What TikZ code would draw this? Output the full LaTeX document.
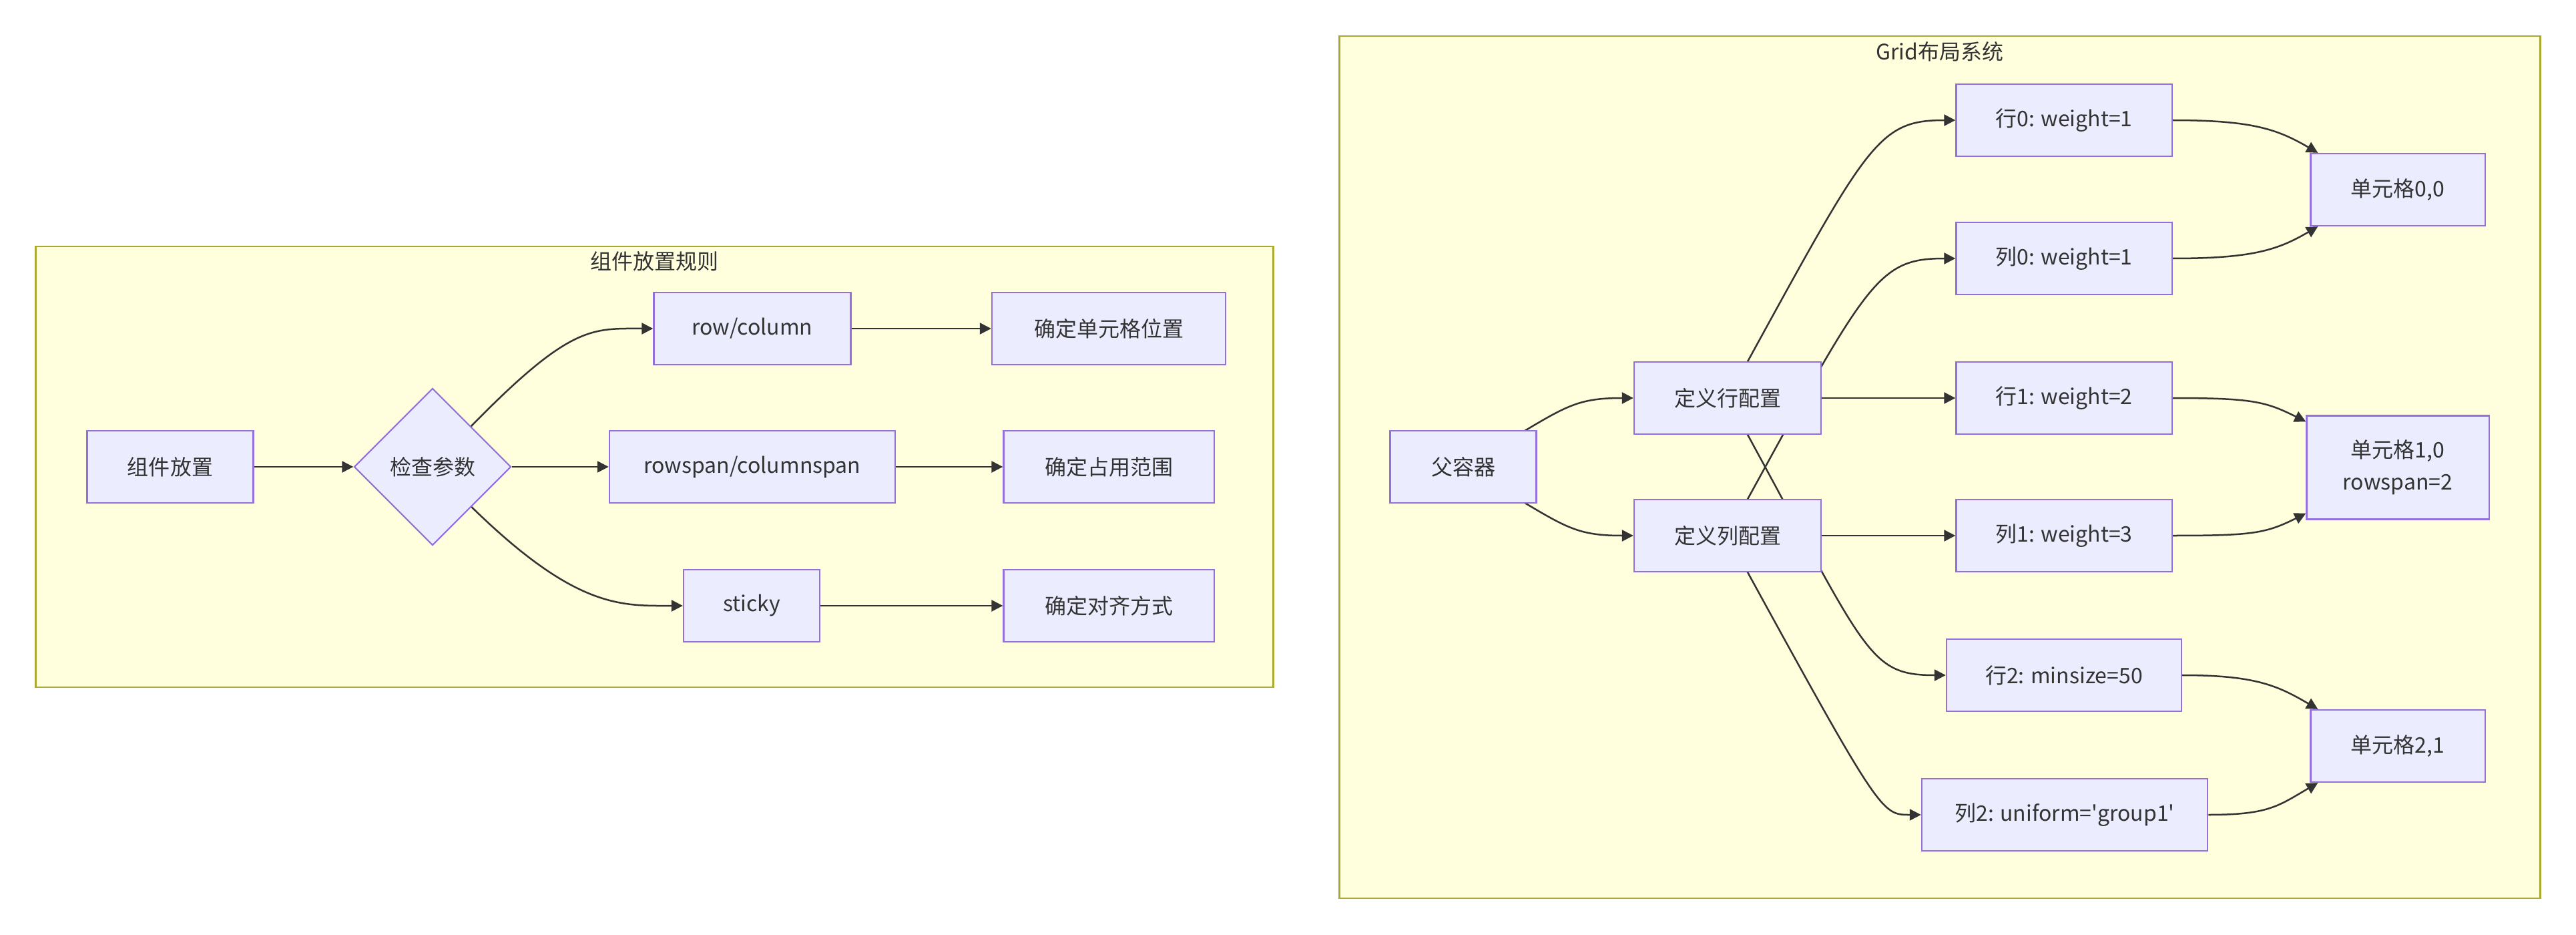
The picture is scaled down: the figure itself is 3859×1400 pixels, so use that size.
\documentclass[tikz,border=0pt]{standalone}
\usepackage{fontspec}
\newfontfamily\mfont{Noto Sans CJK SC}
\usetikzlibrary{shapes.geometric,arrows.meta}
\definecolor{nodefill}{HTML}{ECECFF}
\definecolor{nodeline}{HTML}{9370DB}
\definecolor{clfill}{HTML}{FFFFDE}
\definecolor{clline}{HTML}{AAAA33}
\definecolor{edgec}{HTML}{333333}
\definecolor{txt}{HTML}{333333}
\pgfdeclarelayer{clusters}
\pgfdeclarelayer{edges}
\pgfsetlayers{clusters,edges,main}
\begin{document}
\begin{tikzpicture}[x=0.01cm,y=-0.01cm,
  box/.style={draw=nodeline, fill=nodefill, line width=0.022cm, minimum height=1.08cm,
    inner sep=0pt, text=txt, font=\mfont\fontsize{9.1pt}{13.7pt}\selectfont, align=center},
  dia/.style={box, diamond, aspect=1, minimum width=2.35cm, minimum height=2.35cm},
  cluster/.style={draw=clline, fill=clfill, line width=0.022cm, inner sep=0pt},
  ctitle/.style={text=txt, font=\mfont\fontsize{9.1pt}{11pt}\selectfont, anchor=base, inner sep=0pt},
  edge/.style={draw=edgec, line width=0.025cm, -{Triangle[length=0.17cm,width=0.17cm]}},
]
\begin{pgfonlayer}{clusters}
\fill[white] (0,0) rectangle (3859,1400);
\node[cluster, minimum width=18.53cm, minimum height=6.60cm] (cla) at (980.5,699) {};
\node[cluster, minimum width=17.98cm, minimum height=12.90cm] (clb) at (2906,699.5) {};
\end{pgfonlayer}
\useasboundingbox (0,0) rectangle (3859,1400);
\node[ctitle] (ta) at (980.5,403) {组件放置规则};
\node[ctitle] (tb) at (2906,90) {Grid布局系统};

% left cluster
\node[box, minimum width=2.49cm] (comp) at (255,699) {组件放置};
\node[dia] (chk) at (648,699) {检查参数};
\node[box, minimum width=2.95cm] (rc) at (1127,492) {row/column};
\node[box, minimum width=4.28cm] (rs) at (1127,699) {rowspan/columnspan};
\node[box, minimum width=2.04cm] (st) at (1126,907) {sticky};
\node[box, minimum width=3.50cm] (p1) at (1661,492) {确定单元格位置};
\node[box, minimum width=3.15cm] (p2) at (1661,699) {确定占用范围};
\node[box, minimum width=3.15cm] (p3) at (1661,907) {确定对齐方式};

% right cluster
\node[box, minimum width=2.19cm] (fa) at (2192,699) {父容器};
\node[box, minimum width=2.80cm] (dr) at (2588,596) {定义行配置};
\node[box, minimum width=2.80cm] (dc) at (2588,802) {定义列配置};
\node[box, minimum width=3.23cm] (r0) at (3092,180) {行0: weight=1};
\node[box, minimum width=3.23cm] (c0) at (3092,387) {列0: weight=1};
\node[box, minimum width=3.23cm] (r1) at (3092,596) {行1: weight=2};
\node[box, minimum width=3.23cm] (c1) at (3092,802) {列1: weight=3};
\node[box, minimum width=3.52cm] (r2) at (3092,1011) {行2: minsize=50};
\node[box, minimum width=4.28cm] (c2) at (3093,1220) {列2: uniform='group1'};
\node[box, minimum width=2.61cm] (e00) at (3592,284) {单元格0,0};
\node[box, minimum width=2.73cm, minimum height=1.55cm] (e10) at (3592,700) {单元格1,0\\rowspan=2};
\node[box, minimum width=2.61cm] (e21) at (3592,1117) {单元格2,1};

\begin{pgfonlayer}{edges}
\draw[edge] (comp) -- (chk);
\draw[edge] (chk.center) .. controls +(200,-215) and +(-100,0) .. (rc.west);
\draw[edge] (chk) -- (rs);
\draw[edge] (chk.center) .. controls +(200,215) and +(-100,0) .. (st.west);
\draw[edge] (rc) -- (p1);
\draw[edge] (rs) -- (p2);
\draw[edge] (st) -- (p3);

\draw[edge] (fa.center) .. controls +(150,-85) and +(-100,0) .. (dr.west);
\draw[edge] (fa.center) .. controls +(150,85) and +(-100,0) .. (dc.west);
\draw[edge] (dr.center) .. controls +(209,-380) and +(-120,0) .. (r0.west);
\draw[edge] (dr) -- (r1);
\draw[edge] (dr.center) .. controls +(209,380) and +(-120,0) .. (r2.west);
\draw[edge] (dc.center) .. controls +(209,-380) and +(-120,0) .. (c0.west);
\draw[edge] (dc) -- (c1);
\draw[edge] (dc.center) .. controls +(230,420) and +(-60,0) .. (c2.west);

\draw[edge] (r0.east) .. controls +(120,0) and +(-60,-35) .. ([xshift=0.12cm]e00.north west);
\draw[edge] (c0.east) .. controls +(120,0) and +(-60,35) .. ([xshift=0.12cm]e00.south west);
\draw[edge] (r1.east) .. controls +(120,0) and +(-60,-30) .. ([yshift=-0.1cm]e10.north west);
\draw[edge] (c1.east) .. controls +(120,0) and +(-60,30) .. ([yshift=0.1cm]e10.south west);
\draw[edge] (r2.east) .. controls +(110,0) and +(-60,-35) .. ([xshift=0.12cm]e21.north west);
\draw[edge] (c2.east) .. controls +(90,0) and +(-60,35) .. ([xshift=0.12cm]e21.south west);
\end{pgfonlayer}
\end{tikzpicture}
\end{document}
